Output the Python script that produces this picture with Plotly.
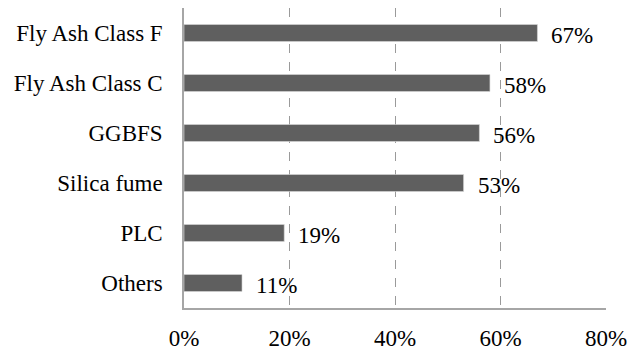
import plotly.graph_objects as go

# Usage share of supplementary cementitious materials
categories = ["Fly Ash Class F", "Fly Ash Class C", "GGBFS", "Silica fume", "PLC", "Others"]
values = [67, 58, 56, 53, 19, 11]
x_ticks = [0, 20, 40, 60, 80]
x_tick_labels = ["0%", "20%", "40%", "60%", "80%"]

FONT = "Liberation Serif, Times New Roman, serif"
FSIZE = 23

fig = go.Figure()
fig.add_trace(go.Bar(
    y=categories,
    x=values,
    orientation="h",
    marker=dict(color="#5f5f5f", line=dict(color="#d9d9d9", width=0.6)),
    hoverinfo="skip",
))

# value labels just past each bar end
for cat, v in zip(categories, values):
    fig.add_annotation(
        x=v, y=cat, text=f"{v}%", showarrow=False,
        xanchor="left", yanchor="middle", xshift=12, yshift=-2,
        font=dict(family=FONT, size=FSIZE, color="#000000"),
    )

fig.update_layout(
    width=628, height=351,
    margin=dict(l=184, r=22, t=8, b=43),
    paper_bgcolor="white", plot_bgcolor="white",
    bargap=0.66,
    showlegend=False,
    font=dict(family=FONT, size=FSIZE, color="#000000"),
)
fig.update_xaxes(
    range=[0, 80], tickvals=x_ticks, ticktext=x_tick_labels,
    showgrid=True, gridcolor="#9a9a9a", griddash="dash", gridwidth=1.2,
    showline=True, linecolor="#a6a6a6", linewidth=1.5,
    zeroline=False, ticks="", ticklabelstandoff=9, automargin=False,
    tickfont=dict(family=FONT, size=FSIZE, color="#000000"),
)
fig.update_yaxes(
    categoryorder="array", categoryarray=categories[::-1],
    showline=True, linecolor="#a6a6a6", linewidth=1.5,
    showgrid=False, ticks="", ticklabelstandoff=15, automargin=False,
    tickfont=dict(family=FONT, size=FSIZE, color="#000000"),
)

fig.write_html("out.html")
